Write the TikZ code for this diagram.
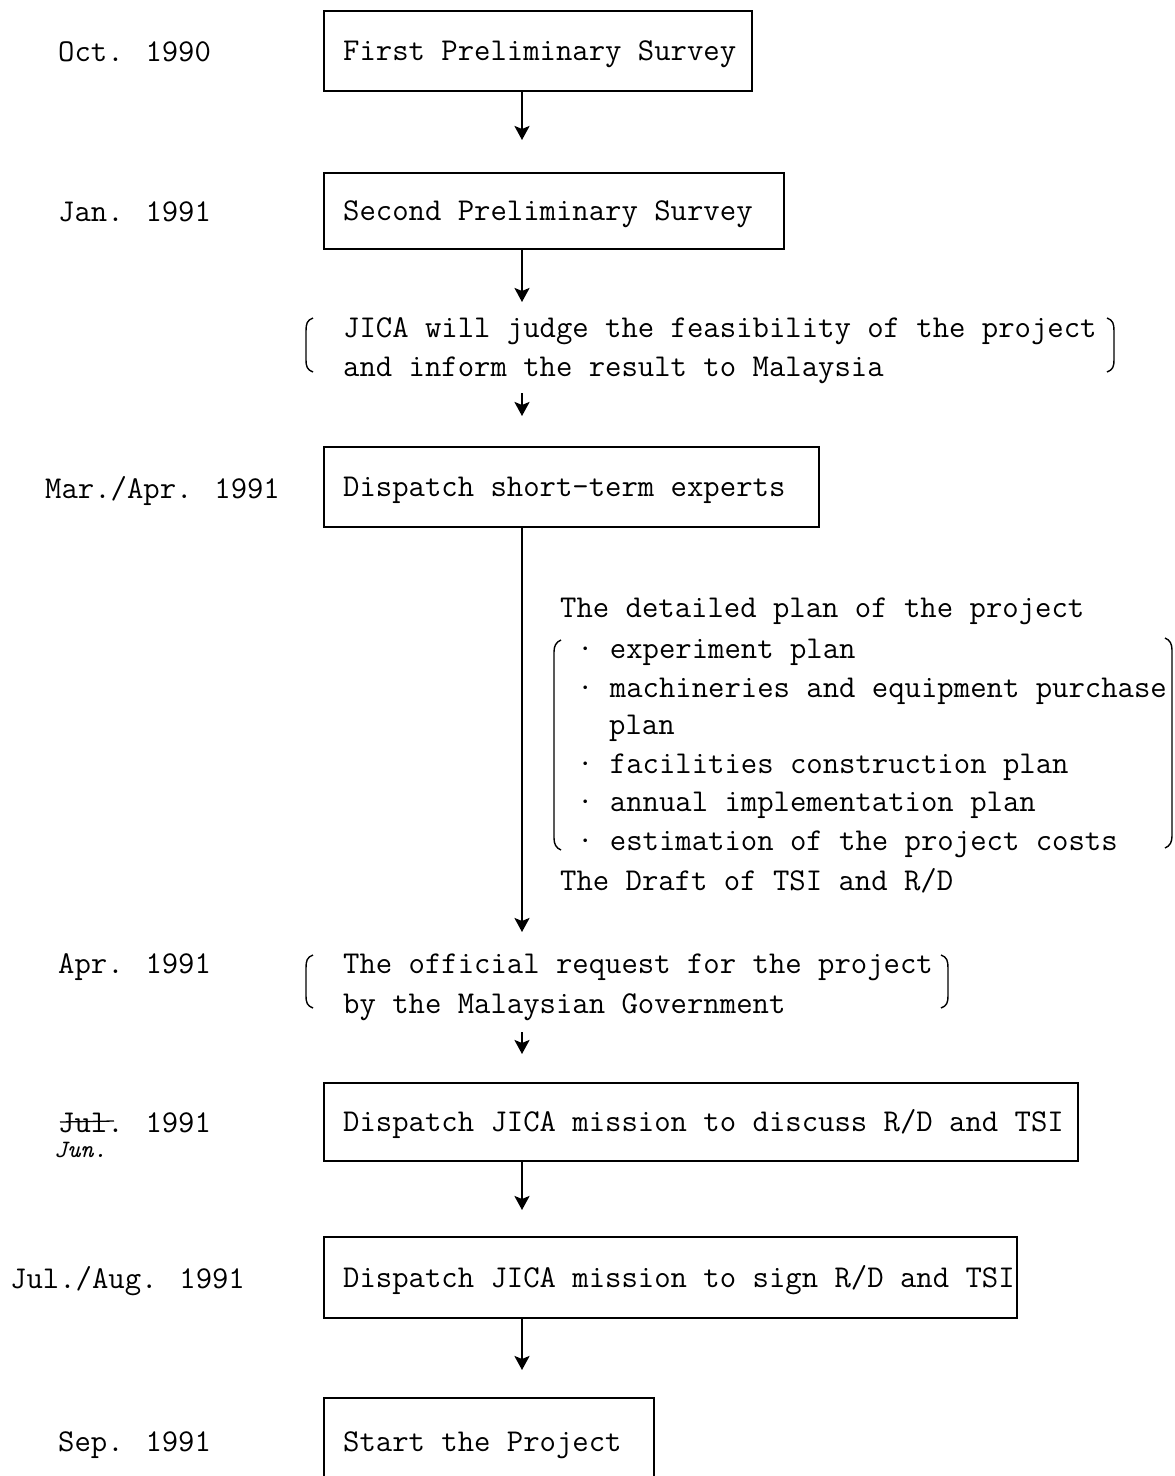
\documentclass[tikz,border=0pt]{standalone}
\usepackage{fontspec}
\usetikzlibrary{arrows.meta}
\tikzset{
  txt/.style={anchor=base west, inner sep=0pt, font=\fontsize{31.8}{32}\selectfont\ttfamily},
  box/.style={draw, line width=1.5pt, anchor=north west, inner sep=0pt},
  arr/.style={line width=2.5pt, -{Stealth[length=14pt,width=15pt,inset=3pt]}},
  brk/.style={line width=1.4pt},
  hand/.style={anchor=base west, inner sep=0pt, font=\fontsize{25}{25}\selectfont\ttfamily\itshape}
}
\begin{document}
\begin{tikzpicture}[x=1pt,y=-1pt]
\useasboundingbox[fill=white] (0,0) rectangle (1175,1476);

% ---- boxes ----
\node[box, minimum width=428pt, minimum height=80pt] (b1) at (323,10) {};
\node[txt] (t1) at ([shift={(20pt,-10pt)}]b1.west) {First Preliminary Survey};

\node[box, minimum width=460pt, minimum height=76pt] (b2) at (323,172) {};
\node[txt] (t2) at ([shift={(20pt,-10pt)}]b2.west) {Second Preliminary Survey};

\node[box, minimum width=495pt, minimum height=80pt] (b3) at (323,446) {};
\node[txt] (t3) at ([shift={(20pt,-10pt)}]b3.west) {Dispatch short-term experts};

\node[box, minimum width=754pt, minimum height=78pt] (b4) at (323,1082) {};
\node[txt] (t4) at ([shift={(20pt,-10pt)}]b4.west) {Dispatch JICA mission to discuss R/D and TSI};

\node[box, minimum width=693pt, minimum height=81pt] (b5) at (323,1236) {};
\node[txt] (t5) at ([shift={(20pt,-10pt)}]b5.west) {Dispatch JICA mission to sign R/D and TSI};

\node[box, minimum width=330pt, minimum height=88pt] (b6) at (323,1397) {};
\node[txt] (t6) at (343,1451) {Start the Project};

% ---- dates ----
\node[txt] (d1) at (58,61) {Oct. 1990};
\node[txt] (d2) at (58,221) {Jan. 1991};
\node[txt] (d3) at (45,498) {Mar./Apr. 1991};
\node[txt] (d4) at (58,973) {Apr. 1991};
\node[txt] (d5) at (58,1132) {Jul. 1991};
\draw[line width=1.3pt] (60,1122) -- (114,1121);
\node[hand] (d5b) at (54,1157) {Jun.};
\node[txt] (d6) at (10,1288) {Jul./Aug. 1991};
\node[txt] (d7) at (58,1451) {Sep. 1991};

% ---- bracketed notes ----
\node[txt] (j1) at (343,337) {JICA will judge the feasibility of the project};
\node[txt] (j2) at (343,376) {and inform the result to Malaysia};
\draw[brk] (313,318) .. controls (307,320) and (306,324) .. (306,331) -- (306,360) .. controls (306,366) and (307,370) .. (313,372);
\draw[brk] (1107,318) .. controls (1113,320) and (1114,324) .. (1114,331) -- (1114,360) .. controls (1114,366) and (1113,370) .. (1107,372);

\node[txt] (p0) at (560,617) {The detailed plan of the project};
\node[txt] (p1) at (577,658) {· experiment plan};
\node[txt] (p2) at (577,697) {· machineries and equipment purchase};
\node[txt] (p2b) at (609,734) {plan};
\node[txt] (p3) at (577,773) {· facilities construction plan};
\node[txt] (p4) at (577,811) {· annual implementation plan};
\node[txt] (p5) at (577,850) {· estimation of the project costs};
\node[txt] (p6) at (560,890) {The Draft of TSI and R/D};
\draw[brk] (561,640) .. controls (556,642) and (554,646) .. (554,652) -- (554,838) .. controls (554,844) and (556,848) .. (561,850);
\draw[brk] (1165,638) .. controls (1170,640) and (1172,644) .. (1172,650) -- (1172,836) .. controls (1172,842) and (1170,846) .. (1165,848);

\node[txt] (o1) at (343,973) {The official request for the project};
\node[txt] (o2) at (343,1013) {by the Malaysian Government};
\draw[brk] (313,955) .. controls (307,957) and (306,961) .. (306,968) -- (306,996) .. controls (306,1002) and (307,1006) .. (313,1008);
\draw[brk] (941,955) .. controls (947,957) and (948,961) .. (948,968) -- (948,996) .. controls (948,1002) and (947,1006) .. (941,1008);

% ---- arrows ----
\coordinate (a1) at (522,140);
\draw[arr] (b1.south -| a1) -- (a1);
\coordinate (a2) at (522,302);
\draw[arr] (b2.south -| a2) -- (a2);
\coordinate (a3s) at (522,393);
\coordinate (a3) at (522,416);
\draw[arr] (a3s) -- (a3);
\coordinate (a4) at (522,932);
\draw[arr] (b3.south -| a4) -- (a4);
\coordinate (a5s) at (522,1032);
\coordinate (a5) at (522,1054);
\draw[arr] (a5s) -- (a5);
\coordinate (a6) at (522,1210);
\draw[arr] (b4.south -| a6) -- (a6);
\coordinate (a7) at (522,1370);
\draw[arr] (b5.south -| a7) -- (a7);
\end{tikzpicture}
\end{document}
